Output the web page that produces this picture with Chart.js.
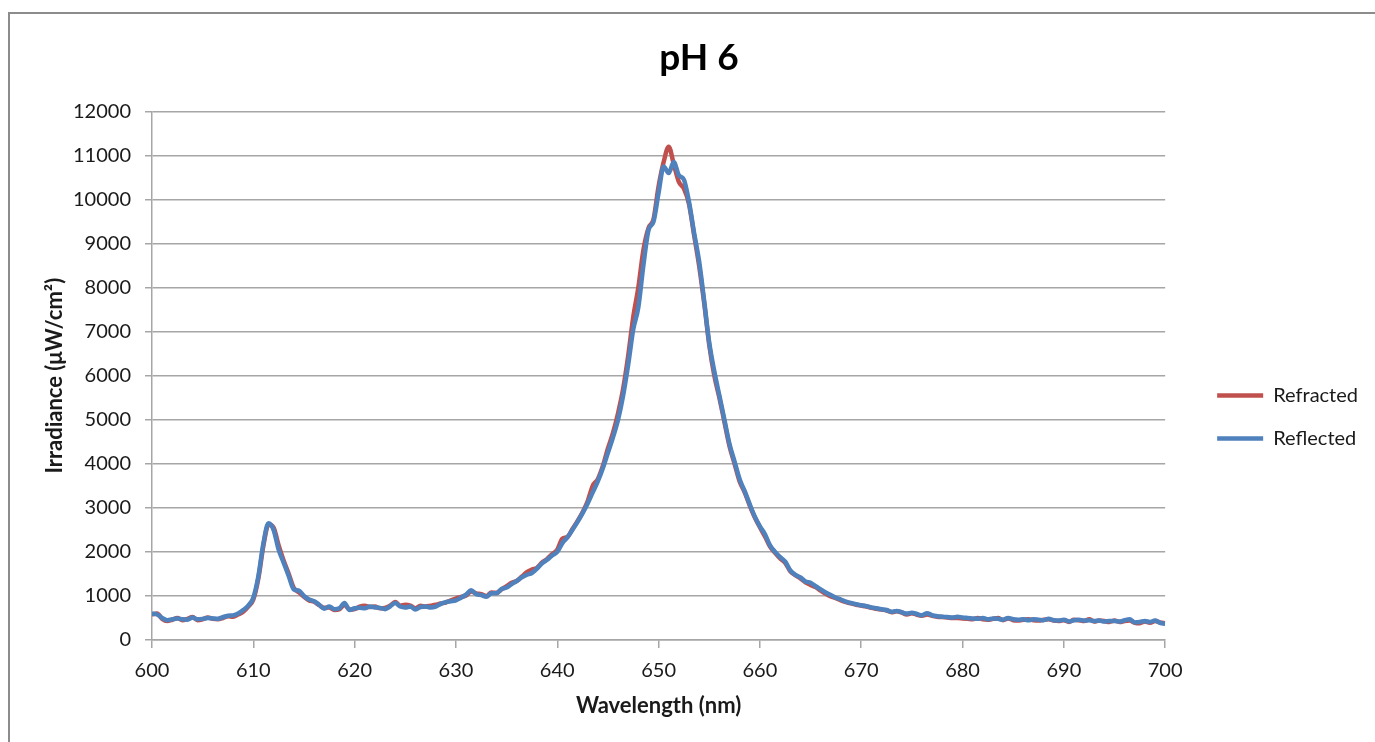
<!DOCTYPE html>
<html>
<head>
<meta charset="utf-8">
<script src="https://cdn.jsdelivr.net/npm/chart.js@4.4.1/dist/chart.umd.min.js"></script>
<style>
  body { margin: 0; background: #fff; }
  canvas { display: block; }
</style>
</head>
<body>
<canvas id="specChart" width="1375" height="742"></canvas>
<script>
// spectrum, pH 6

var wavelength = [
  600,600.5,601,601.5,602,602.5,603,603.5,604,604.5,
  605,605.5,606,606.5,607,607.5,608,608.5,609,609.5,
  610,610.5,611,611.5,612,612.5,613,613.5,614,614.5,
  615,615.5,616,616.5,617,617.5,618,618.5,619,619.5,
  620,620.5,621,621.5,622,622.5,623,623.5,624,624.5,
  625,625.5,626,626.5,627,627.5,628,628.5,629,629.5,
  630,630.5,631,631.5,632,632.5,633,633.5,634,634.5,
  635,635.5,636,636.5,637,637.5,638,638.5,639,639.5,
  640,640.5,641,641.5,642,642.5,643,643.5,644,644.5,
  645,645.5,646,646.5,647,647.5,648,648.5,649,649.5,
  650,650.5,651,651.5,652,652.5,653,653.5,654,654.5,
  655,655.5,656,656.5,657,657.5,658,658.5,659,659.5,
  660,660.5,661,661.5,662,662.5,663,663.5,664,664.5,
  665,665.5,666,666.5,667,667.5,668,668.5,669,669.5,
  670,670.5,671,671.5,672,672.5,673,673.5,674,674.5,
  675,675.5,676,676.5,677,677.5,678,678.5,679,679.5,
  680,680.5,681,681.5,682,682.5,683,683.5,684,684.5,
  685,685.5,686,686.5,687,687.5,688,688.5,689,689.5,
  690,690.5,691,691.5,692,692.5,693,693.5,694,694.5,
  695,695.5,696,696.5,697,697.5,698,698.5,699,699.5,
  700]

var refracted = [
  580,600,480,430,460,500,450,480,520,450,
  470,510,480,470,500,540,530,580,640,760,
  920,1400,2150,2620,2550,2150,1800,1500,1180,1080,
  980,900,870,790,730,740,680,700,800,690,
  700,760,780,750,760,720,730,780,860,780,
  800,780,720,780,760,780,800,830,850,900,
  940,980,1010,1100,1060,1040,1000,1080,1070,1150,
  1220,1300,1340,1440,1540,1600,1640,1760,1840,1950,
  2050,2300,2340,2520,2700,2900,3150,3500,3650,3950,
  4350,4700,5150,5700,6450,7330,8000,8850,9350,9550,
  10300,10850,11200,10800,10400,10250,9900,9200,8500,7650,
  6700,6000,5500,4950,4400,4000,3600,3350,3050,2780,
  2560,2350,2120,1980,1850,1750,1560,1470,1400,1310,
  1250,1200,1120,1050,990,950,900,860,830,800,
  780,760,730,710,690,670,630,650,620,580,
  610,570,550,580,550,530,520,510,500,500,
  490,480,470,500,470,460,480,500,450,490,
  450,440,460,470,450,440,460,470,440,430,
  450,410,460,450,430,470,420,440,430,410,
  440,410,430,440,390,380,420,390,430,400,
  380]

var reflected = [
  600,580,500,450,470,490,470,460,510,470,
  480,500,490,480,520,550,560,600,680,780,
  960,1450,2200,2650,2500,2050,1750,1450,1150,1120,
  1000,920,880,800,710,760,700,720,840,680,
  720,730,720,760,740,730,700,760,840,760,
  740,760,690,750,760,740,760,820,860,880,
  900,960,1030,1130,1040,1020,980,1060,1060,1160,
  1190,1270,1340,1420,1480,1520,1620,1740,1820,1920,
  2000,2200,2330,2500,2680,2880,3100,3350,3600,3900,
  4250,4600,5000,5550,6250,7050,7550,8500,9300,9500,
  10150,10750,10600,10850,10550,10450,9950,9250,8600,7700,
  6750,6100,5550,5000,4450,4050,3650,3380,3080,2800,
  2580,2400,2150,2000,1880,1780,1580,1480,1420,1330,
  1300,1220,1150,1080,1020,960,920,870,840,810,
  790,770,740,720,700,680,640,660,630,600,
  620,590,560,610,560,540,530,520,510,530,
  510,500,490,480,500,470,490,480,460,500,
  470,460,470,450,470,460,450,480,450,440,
  460,420,450,460,440,450,430,440,420,430,
  430,420,450,470,400,410,430,410,440,390,
  370]

var seriesNames = ["Refracted", "Reflected"]
var seriesColors = ["#C0504D", "#4F81BD"]

var gridCol = "#a6a6a6"
var txtCol = "#1a1a1a"
var fam = "Lato, 'Open Sans', sans-serif"

function pts(vals) {
  return wavelength.map(function (w, i) { return {x: w, y: vals[i]} })
}

// outer frame like the excel chart border
var frame = {
  id: 'frame',
  beforeDraw: function (chart) {
    var c = chart.ctx
    c.save()
    c.strokeStyle = "#8c8c8c"
    c.lineWidth = 2
    c.strokeRect(9, 13, 1500, 900)
    c.restore()
  }
}

var ctx = document.getElementById("specChart").getContext('2d')
var chart = new Chart(ctx, {
  type: 'line',
  data: {
    datasets: [{
      label: seriesNames[1],
      data: pts(reflected),
      borderColor: seriesColors[1],
      backgroundColor: seriesColors[1],
      borderWidth: 4.5,
      pointRadius: 0,
      cubicInterpolationMode: 'monotone',
      order: 0
    }, {
      label: seriesNames[0],
      data: pts(refracted),
      borderColor: seriesColors[0],
      backgroundColor: seriesColors[0],
      borderWidth: 4.5,
      pointRadius: 0,
      cubicInterpolationMode: 'monotone',
      order: 1
    }]
  },
  options: {
    responsive: false,
    animation: false,
    layout: { padding: { left: 30, right: 7, top: 0, bottom: 0 } },
    plugins: {
      tooltip: { enabled: false },
      title: {
        display: true,
        text: 'pH 6',
        color: '#000',
        font: { family: fam, size: 37, weight: 'bold' },
        padding: { top: 36, bottom: 31 }
      },
      legend: {
        position: 'right',
        align: 'center',
        title: { display: true, text: ' ', font: { size: 20 }, padding: { top: 0, bottom: 68 } },
        labels: {
          usePointStyle: true,
          pointStyle: 'line',
          pointStyleWidth: 46,
          boxHeight: 20,
          padding: 23,
          color: txtCol,
          font: { family: fam, size: 20 },
          sort: function (a, b) { return b.datasetIndex - a.datasetIndex }
        }
      }
    },
    scales: {
      x: {
        type: 'linear',
        min: 600,
        max: 700,
        ticks: { stepSize: 10, padding: 11, color: txtCol, font: { family: fam, size: 20 },
          callback: function (v) { return String(v) } },
        grid: { drawOnChartArea: false, drawTicks: true, tickLength: 8, color: gridCol, lineWidth: 1.5 },
        border: { color: gridCol, width: 1.5 },
        title: {
          display: true,
          text: 'Wavelength (nm)',
          color: txtCol,
          font: { family: fam, size: 22, weight: 'bold' },
          padding: { top: 0, bottom: 23 }
        },
        afterFit: function (s) { s.height = 102 }
      },
      y: {
        min: 0,
        max: 12000,
        ticks: { stepSize: 500, padding: 14, color: txtCol, font: { family: fam, size: 20 },
          callback: function (v) { return String(v) } },
        grid: { color: gridCol, lineWidth: 1.5, tickLength: 7 },
        border: { color: gridCol, width: 1.5 },
        title: {
          display: true,
          text: 'Irradiance (μW/cm²)',
          color: txtCol,
          font: { family: fam, size: 22, weight: 'bold' },
          padding: { top: 12, bottom: 0 }
        },
        afterFit: function (s) { s.width = 122 }
      },
      yPad: {
        position: 'right',
        display: true,
        ticks: { display: false },
        grid: { display: false },
        border: { display: false },
        afterFit: function (s) { s.width = 29 }
      }
    }
  },
  plugins: [frame]
})
</script>
</body>
</html>
